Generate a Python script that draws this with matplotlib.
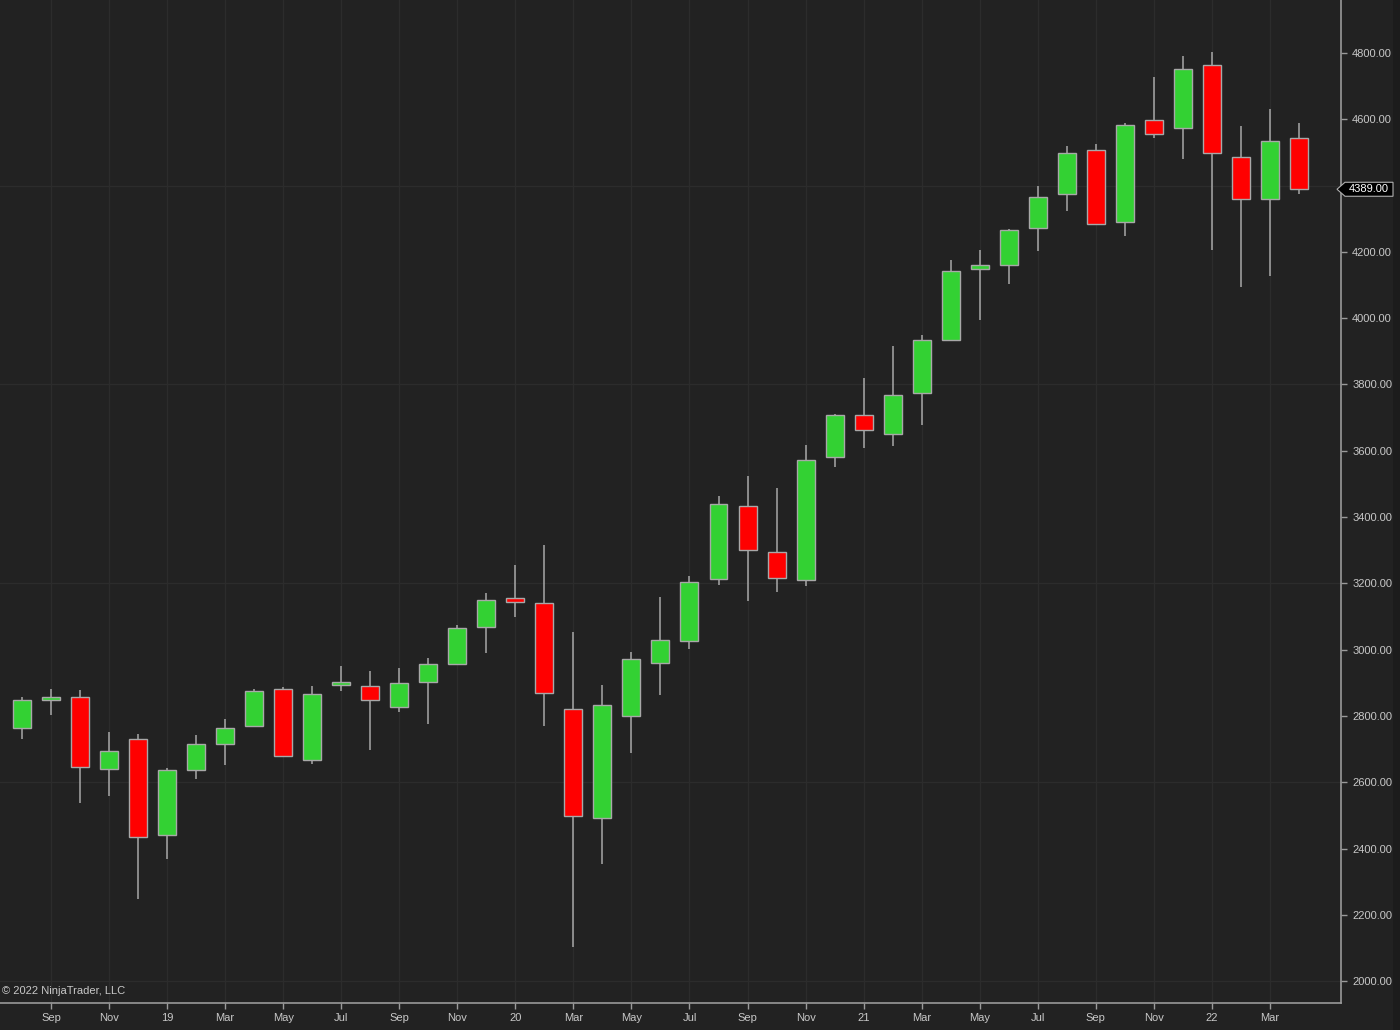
import numpy as np
import matplotlib
matplotlib.use("Agg")
import matplotlib.pyplot as plt
from matplotlib.patches import Polygon, Rectangle
from matplotlib.transforms import blended_transform_factory

# monthly candles, Aug 2018 .. Apr 2022
months = ["2018-08", "2018-09", "2018-10", "2018-11", "2018-12",
          "2019-01", "2019-02", "2019-03", "2019-04", "2019-05", "2019-06",
          "2019-07", "2019-08", "2019-09", "2019-10", "2019-11", "2019-12",
          "2020-01", "2020-02", "2020-03", "2020-04", "2020-05", "2020-06",
          "2020-07", "2020-08", "2020-09", "2020-10", "2020-11", "2020-12",
          "2021-01", "2021-02", "2021-03", "2021-04", "2021-05", "2021-06",
          "2021-07", "2021-08", "2021-09", "2021-10", "2021-11", "2021-12",
          "2022-01", "2022-02", "2022-03", "2022-04"]

opens = [2764, 2848, 2858, 2640, 2729,
         2440, 2638, 2715, 2770, 2882, 2667,
         2892, 2891, 2826, 2903, 2957, 3067,
         3155, 3141, 2820, 2491, 2800, 2959,
         3026, 3212, 3432, 3295, 3210, 3581,
         3708, 3650, 3775, 3934, 4148, 4161,
         4272, 4374, 4506, 4289, 4597, 4574,
         4765, 4487, 4360, 4543]
highs = [2857, 2881, 2878, 2751, 2747,
         2644, 2742, 2791, 2881, 2886, 2889,
         2951, 2935, 2945, 2975, 3073, 3170,
         3255, 3316, 3054, 2893, 2994, 3158,
         3222, 3463, 3524, 3489, 3616, 3712,
         3819, 3916, 3949, 4176, 4206, 4270,
         4399, 4519, 4526, 4589, 4727, 4792,
         4802, 4580, 4630, 4589]
lows = [2730, 2803, 2538, 2559, 2248,
        2369, 2611, 2652, 2768, 2675, 2655,
        2876, 2698, 2811, 2775, 2953, 2990,
        3098, 2770, 2102, 2352, 2688, 2862,
        3002, 3195, 3148, 3174, 3193, 3552,
        3609, 3615, 3678, 3930, 3994, 4102,
        4202, 4324, 4281, 4247, 4545, 4479,
        4206, 4095, 4128, 4375]
closes = [2848, 2856, 2645, 2693, 2436,
          2636, 2715, 2764, 2875, 2679, 2867,
          2903, 2848, 2898, 2957, 3065, 3150,
          3143, 2870, 2499, 2832, 2972, 3030,
          3204, 3439, 3301, 3215, 3572, 3708,
          3663, 3768, 3934, 4142, 4160, 4265,
          4366, 4499, 4284, 4584, 4555, 4753,
          4498, 4360, 4534, 4389]

last_price = 4389.00
copyright_text = "\u00a9 2022 NinjaTrader, LLC"

bg = "#222222"
grid_col = "#2c2c2c"
axis_col = "#9a9a9a"
text_col = "#c8c8c8"
up_col = "#33d133"
down_col = "#ff0000"
outline = "#a8a8a8"

plt.rcParams["font.family"] = ["Liberation Sans", "DejaVu Sans"]

fig = plt.figure(figsize=(14, 10.3), dpi=100, facecolor=bg)
# slightly darker strip at the far right
fig.patches.append(Rectangle((1393 / 1400, 0), 7 / 1400, 1, transform=fig.transFigure,
                             facecolor="#1c1c1c", edgecolor="none", zorder=0))
ax = fig.add_axes([0, 1 - 1003 / 1030, 1341 / 1400, 1003 / 1030])
ax.set_facecolor(bg)

x = np.arange(len(months))
o = np.array(opens, float)
c = np.array(closes, float)
h = np.array(highs, float)
l = np.array(lows, float)
up = c >= o

# grid (horizontal every 600, vertical every 2 months)
for gy in [2000, 2600, 3200, 3800, 4400]:
    ax.axhline(gy, color=grid_col, lw=1, zorder=0)
tick_idx = list(range(1, len(months), 2))
for ti in tick_idx:
    ax.axvline(ti, color=grid_col, lw=1, zorder=0)

# wicks then bodies
ax.vlines(x, l, h, color=outline, lw=1.1, zorder=2)
body_bottom = np.minimum(o, c)
body_height = np.maximum(np.abs(c - o), 2)
colors = [up_col if u else down_col for u in up]
ax.bar(x, body_height, bottom=body_bottom, width=0.62, color=colors,
       edgecolor=outline, linewidth=1.0, zorder=3)

ax.set_xlim(-0.758, 45.45)
ax.set_ylim(1934, 4960)

# axes styling
for s in ["left", "top"]:
    ax.spines[s].set_visible(False)
for s in ["right", "bottom"]:
    ax.spines[s].set_color(axis_col)
    ax.spines[s].set_linewidth(1.2)

ax.yaxis.tick_right()
yt = [v for v in range(2000, 4801, 200) if v != 4400]  # 4400 hidden by price marker
ax.set_yticks(yt)
ax.set_yticklabels([f"{v:.2f}" for v in yt])

def month_label(m):
    yr, mo = m.split("-")
    if mo == "01":
        return yr[2:]
    names = ["Jan", "Feb", "Mar", "Apr", "May", "Jun", "Jul", "Aug",
             "Sep", "Oct", "Nov", "Dec"]
    return names[int(mo) - 1]

ax.set_xticks(tick_idx)
ax.set_xticklabels([month_label(months[i]) for i in tick_idx])
ax.tick_params(axis="both", colors=axis_col, labelcolor=text_col,
               labelsize=8, length=4, width=1)
ax.tick_params(axis="y", pad=4)
ax.tick_params(axis="x", pad=3)

# last price marker
tr = blended_transform_factory(fig.transFigure, ax.transData)
dy = 7 * 3.017
poly = Polygon([(1337 / 1400, last_price), (1345 / 1400, last_price + dy),
                (1393 / 1400, last_price + dy), (1393 / 1400, last_price - dy),
                (1345 / 1400, last_price - dy)], closed=True,
               transform=tr, facecolor="#000000", edgecolor="#b0b0b0",
               lw=0.8, clip_on=False, zorder=5)
fig.patches.append(poly)
fig.text(1369 / 1400, last_price, f"{last_price:.2f}", transform=tr, color="white",
         fontsize=8, ha="center", va="center", zorder=6)

ax.text(2 / 1341, 1 - 991 / 1003, copyright_text, transform=ax.transAxes,
        color=text_col, fontsize=8, ha="left", va="center")

fig.savefig("out.png", dpi=100, facecolor=bg)
